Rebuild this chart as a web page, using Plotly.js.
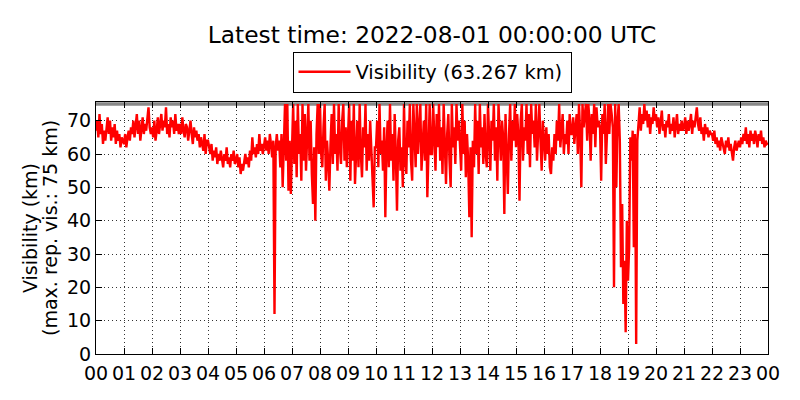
<!DOCTYPE html>
<html>
<head>
<meta charset="utf-8">
<script src="https://cdn.plot.ly/plotly-3.0.1.min.js"></script>
<style>html,body{margin:0;padding:0;background:#fff;}#chart{width:800px;height:400px;}</style>
</head>
<body>
<div id="chart"></div>
<script>
// Time axis: 2.5-minute readings from 2022-07-31 00:00 to 2022-08-01 00:00 UTC
const startTime = '2022-07-31T00:00:00Z';
const stepMinutes = 2.5;
const seriesName = 'Visibility (63.267 km)';
const maxReportedVisibility = 75;
const latestValue = 63.267;

// Visibility (km), 24 readings per hour
const h00 = [67,70,65,72,66,69,63,67,64,68,71,66,70,64,68,65,69,63,67,64,66,62,65,64];
const h01 = [63,66,62,65,67,64,68,66,70,65,69,72,66,70,64,68,71,66,69,67,70,74,68,66];
const h02 = [68,65,70,64,67,71,66,69,72,67,70,68,74,66,69,65,71,68,70,66,72,67,69,66];
const h03 = [69,66,71,67,65,69,68,64,67,70,66,63,68,65,67,64,66,62,65,63,61,66,60,64];
const h04 = [64,62,60,63,58,61,59,62,57,60,58,61,59,56,60,58,62,57,59,56,60,58,61,57];
const h05 = [58,60,56,59,54,57,55,58,60,57,59,56,61,58,65,60,62,59,63,60,66,61,63,60];
const h06 = [62,65,61,64,60,66,63,59,64,12,62,66,61,64,56,66,50,63,75,58,75,49,64,48];
const h07 = [62,75,57,70,53,75,60,66,52,75,58,72,55,64,75,58,70,54,45,62,40,66,75,60];
const h08 = [75,60,56,68,75,52,64,58,49,63,72,57,75,60,66,55,75,62,57,70,75,58,68,56];
const h09 = [65,75,52,70,58,75,51,64,70,56,75,60,53,68,62,75,55,66,58,70,60,52,44,62];
const h10 = [62,70,56,75,60,64,55,68,41,62,70,56,75,58,66,52,72,60,43,64,68,55,62,50];
const h11 = [75,58,54,70,62,75,58,52,75,66,56,75,60,68,75,55,62,70,58,75,47,66,75,60];
const h12 = [60,75,66,55,72,62,75,58,68,54,75,60,51,66,72,58,50,75,62,68,57,75,64,70];
const h13 = [62,55,75,60,70,53,66,58,41,62,35,64,56,75,60,70,54,75,62,68,57,72,60,56];
const h14 = [75,62,55,70,64,75,58,68,52,75,63,58,70,65,42,72,60,48,66,75,58,70,64,75];
const h15 = [62,72,66,46,70,75,58,68,64,75,60,72,56,75,66,70,62,75,58,68,75,64,55,70];
const h16 = [64,58,68,60,66,56,54,62,58,66,60,70,64,75,62,68,72,60,66,63,70,60,72,66];
const h17 = [66,71,63,68,72,60,75,66,50,75,68,72,75,64,75,70,58,72,66,75,62,74,68,70];
const h18 = [68,52,72,66,75,57,70,75,66,75,72,68,20,75,50,70,75,64,26,45,15,28,6.5,40];
const h19 = [22,32,65,58,67,32,66,3,64,70,74,67,72,69,75,70,73,68,72,66,71,69,74,70];
const h20 = [72,68,71,66,70,73,67,69,65,70,68,72,66,69,67,71,65,68,72,66,69,67,70,67];
const h21 = [68,71,66,70,67,69,72,66,70,68,71,74,69,67,71,66,68,64,69,66,68,65,67,66];
const h22 = [66,64,67,63,65,62,64,61,65,63,62,60,64,62,65,61,63,60,58,62,64,61,63,64];
const h23 = [62,65,63,66,64,68,63,66,62,67,64,66,63,67,65,62,66,64,67,63,65,62,64,63];

const hourTickLabels = ['00','01','02','03','04','05','06','07','08','09','10','11',
  '12','13','14','15','16','17','18','19','20','21','22','23','00'];
const yTicks = [0, 10, 20, 30, 40, 50, 60, 70];
const yTitleLines = ['Visibility (km)', '(max. rep. vis.: 75 km)'];

const visibility = [].concat(h00,h01,h02,h03,h04,h05,h06,h07,h08,h09,h10,h11,
  h12,h13,h14,h15,h16,h17,h18,h19,h20,h21,h22,h23,[latestValue]);

const t0 = Date.parse(startTime);
const times = visibility.map((_, i) => new Date(t0 + i * stepMinutes * 60000).toISOString());
const tickTimes = hourTickLabels.map((_, i) => new Date(t0 + i * 3600000).toISOString());
const endTime = tickTimes[tickTimes.length - 1];

const font = 'DejaVu Sans, Liberation Sans, sans-serif';

const trace = {
  x: times, y: visibility, type: 'scatter', mode: 'lines',
  name: seriesName,
  line: {color: '#ff0000', width: 2.4}
};

const axisCommon = {
  showline: true, linecolor: '#000', linewidth: 1, mirror: 'ticks',
  ticks: 'inside', ticklen: 6, tickwidth: 1, tickcolor: '#000',
  showgrid: true, gridcolor: '#000', gridwidth: 0.8, griddash: '1px,3px',
  zeroline: false,
  tickfont: {family: font, size: 19, color: '#000'}
};

const plotLeft = 96, plotWidth = 672;
const yTitleAnnotations = yTitleLines.map((txt, i) => ({
  text: txt, textangle: -90, showarrow: false,
  xref: 'paper', yref: 'paper',
  x: ((i === 0 ? 30 : 50) - plotLeft) / plotWidth, xanchor: 'center',
  y: 0.5, yanchor: 'middle',
  font: {family: font, size: 19, color: '#000'}
}));

const layout = {
  width: 800, height: 400,
  margin: {l: 96, r: 32, t: 102, b: 46},
  paper_bgcolor: '#fff', plot_bgcolor: '#fff',
  font: {family: font, color: '#000'},
  title: {text: 'Latest time: 2022-08-01 00:00:00 UTC',
    font: {family: font, size: 23.3, color: '#000'},
    x: 0.54, xanchor: 'center', y: 0.912, yanchor: 'middle'},
  showlegend: true,
  legend: {x: 0.5, xanchor: 'center', y: 1.2, yanchor: 'top',
    orientation: 'h', bordercolor: '#000', borderwidth: 1, bgcolor: '#fff',
    itemwidth: 52, entrywidth: 210,
    font: {family: font, size: 19.4, color: '#000'}},
  xaxis: Object.assign({}, axisCommon, {
    type: 'date', range: [startTime, endTime],
    tickvals: tickTimes, ticktext: hourTickLabels, ticklabelstandoff: 2
  }),
  yaxis: Object.assign({}, axisCommon, {
    range: [0, 75.6], tickvals: yTicks
  }),
  annotations: yTitleAnnotations,
  shapes: [{type: 'line', xref: 'paper', x0: 0, x1: 1, yref: 'y',
    y0: maxReportedVisibility, y1: maxReportedVisibility,
    line: {color: '#888', width: 3.5}, layer: 'below'}]
};

Plotly.newPlot('chart', [trace], layout, {displayModeBar: false, staticPlot: true});
</script>
</body>
</html>
